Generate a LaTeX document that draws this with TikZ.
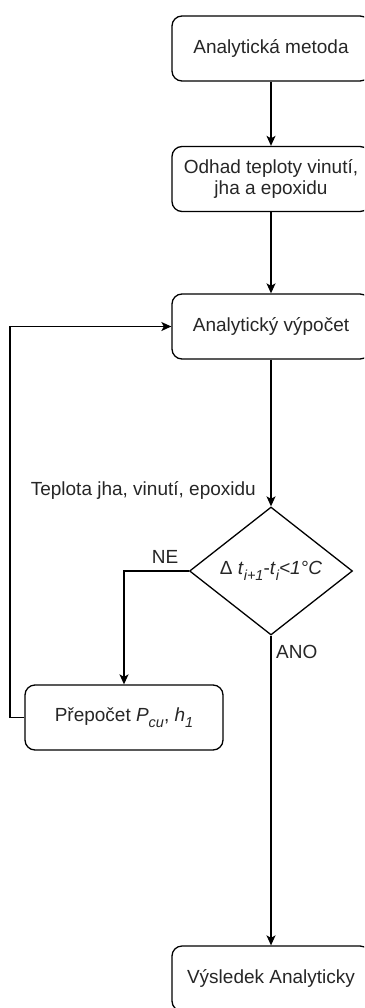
\documentclass[tikz,border=0pt]{standalone}
\usepackage{fontspec}
\setmainfont{Liberation Sans}
\usetikzlibrary{shapes.geometric,arrows.meta}
\newcommand\mysb[1]{\raisebox{-0.3em}{\fontsize{14.5}{14.5}\selectfont\itshape #1}}
\begin{document}
\begin{tikzpicture}[x=1pt,y=-1pt,
  every node/.style={font=\fontsize{19}{22}\selectfont, text=black!85},
  box/.style={draw=black, line width=1.3pt, rounded corners=10pt, minimum width=198pt, minimum height=65pt, inner sep=2pt, align=center},
  dec/.style={draw=black, line width=1.3pt, shape=diamond, aspect=1.27, minimum width=163pt, minimum height=128pt, inner sep=0pt},
  conn/.style={draw=black, line width=1.3pt, -{Stealth[length=10pt,width=9pt,inset=2.5pt]}},
  lbl/.style={inner sep=0pt}
]
\useasboundingbox (0,0) rectangle (364,1008);
\clip (0,0) rectangle (364,1008);
\node[box] (a) at (271,48.5) {Analytická metoda};
\node[box] (b) at (271,179) {Odhad teploty vinutí,\\[-1pt]jha a epoxidu};
\node[box] (c) at (271,326.5) {Analytický výpočet};
\node[dec] (d) at (271,571) {\raisebox{0.15em}{Δ \textit{t}\mysb{i+1}-\textit{t}\mysb{i}\textit{<1°C}}};
\node[box] (p) at (124,717.5) {Přepočet \textit{P}\mysb{cu}, \textit{h}\mysb{1}};
\node[box] (r) at (271,978.5) {Výsledek Analyticky};
\coordinate (nl) at (124,571);
\coordinate (fb1) at (10,717.5);
\coordinate (fb2) at (10,326.5);
\draw[conn] (a) -- (b);
\draw[conn] (b) -- (c);
\draw[conn] (c) -- (d);
\draw[conn] (d.west) -- (nl) -- (p.north);
\draw[conn] (p.west) -- (fb1) -- (fb2) -- (c.west);
\draw[conn] (d.south) -- (r.north);
\node[lbl, anchor=east] (t1) at (256,490) {Teplota jha, vinutí, epoxidu};
\node[lbl] (ne) at (165,557) {NE};
\node[lbl, anchor=west] (ano) at (276,652) {ANO};
\end{tikzpicture}
\end{document}
